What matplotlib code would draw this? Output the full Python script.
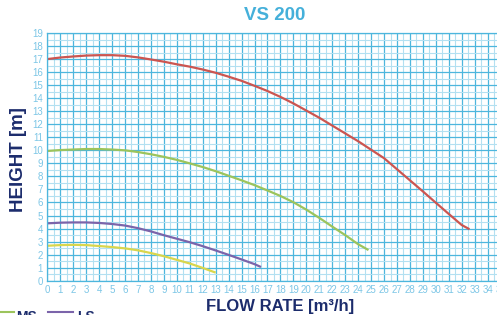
import matplotlib.pyplot as plt
from matplotlib.lines import Line2D
from matplotlib.ticker import MultipleLocator

# Curve data (flow m3/h -> height m)
hs_flow = [0, 1, 2, 3, 4, 5, 6, 7, 8, 9, 10, 11, 12, 13, 14, 15, 16, 17,
           18, 19, 20, 21, 22, 23, 24, 25, 26, 27, 28, 29, 30, 31, 32, 32.6]
hs_head = [17.0, 17.12, 17.2, 17.27, 17.3, 17.3, 17.25, 17.13, 16.97, 16.8,
           16.6, 16.42, 16.2, 15.95, 15.65, 15.33, 14.95, 14.55, 14.1, 13.6,
           13.05, 12.5, 11.9, 11.3, 10.7, 10.05, 9.4, 8.55, 7.7, 6.85, 5.98,
           5.12, 4.27, 3.95]

ms_flow = [0, 1, 2, 3, 4, 5, 6, 7, 8, 9, 10, 11, 12, 13, 14, 15, 16, 17,
           18, 19, 20, 21, 22, 23, 24, 24.8]
ms_head = [9.95, 10.02, 10.06, 10.1, 10.1, 10.06, 10.0, 9.87, 9.7, 9.5,
           9.27, 9.0, 8.72, 8.4, 8.05, 7.7, 7.33, 6.92, 6.5, 6.02, 5.45,
           4.82, 4.15, 3.5, 2.8, 2.35]

ls_flow = [0, 1, 2, 3, 4, 5, 6, 7, 8, 9, 10, 11, 12, 13, 14, 15, 16, 16.5]
ls_head = [4.4, 4.45, 4.47, 4.47, 4.43, 4.35, 4.23, 4.03, 3.78, 3.49, 3.22,
           2.95, 2.65, 2.32, 1.98, 1.63, 1.27, 1.05]

xs_flow = [0, 1, 2, 3, 4, 5, 6, 7, 8, 9, 10, 11, 12, 13]
xs_head = [2.68, 2.73, 2.75, 2.73, 2.66, 2.58, 2.48, 2.33, 2.12, 1.88, 1.6,
           1.32, 0.98, 0.62]

x_ticks = list(range(0, 36))
y_ticks = list(range(0, 20))

# colours
RED = '#cc5550'
GREEN = '#9cc45c'
PURPLE = '#7b64aa'
YELLOW = '#d9d64c'
GRID_MAJ = '#4db6dd'
GRID_MIN = '#b3e0f1'
TICK_COL = '#7cc6e6'
NAVY = '#1c2c6c'

plt.rcParams['font.family'] = ['Liberation Sans', 'DejaVu Sans']

fig = plt.figure(figsize=(4.97, 3.15), dpi=100)
ax = fig.add_axes([0.0952, 0.1089, 0.912, 0.7863])

ax.set_xlim(0, 35)
ax.set_ylim(0, 19)
ax.set_xticks(x_ticks)
ax.set_yticks(y_ticks)
ax.xaxis.set_minor_locator(MultipleLocator(0.5))
ax.yaxis.set_minor_locator(MultipleLocator(0.5))
ax.grid(True, which='minor', color=GRID_MIN, linewidth=0.8)
ax.grid(True, which='major', color=GRID_MAJ, linewidth=0.9)
ax.set_axisbelow(True)
for s in ax.spines.values():
    s.set_color(GRID_MAJ)
    s.set_linewidth(0.9)
ax.spines['right'].set_visible(False)

ax.tick_params(which='both', length=0)
ax.tick_params(axis='both', labelsize=7, labelcolor=TICK_COL)
ax.tick_params(axis='x', pad=3)
ax.tick_params(axis='y', pad=3)

ax.plot(hs_flow, hs_head, color=RED, linewidth=1.6, solid_capstyle='butt')
ax.plot(ms_flow, ms_head, color=GREEN, linewidth=1.6, solid_capstyle='butt')
ax.plot(ls_flow, ls_head, color=PURPLE, linewidth=1.6, solid_capstyle='butt')
ax.plot(xs_flow, xs_head, color=YELLOW, linewidth=1.6, solid_capstyle='butt')

fig.text(0.552, 0.935, 'VS 200', color='#45b0da', fontsize=13.5,
         fontweight='bold', ha='center', va='baseline')
fig.text(0.563, 0.0127, 'FLOW RATE [m³/h]', color=NAVY, fontsize=12,
         fontweight='bold', ha='center', va='baseline')
fig.text(0.038, 0.492, 'HEIGHT [m]', color=NAVY, fontsize=13.5,
         fontweight='bold', rotation=90, ha='center', va='center')

# legend, cut off at the bottom edge like the reference
fig.add_artist(Line2D([0.0, 0.028], [0.008, 0.008], color=GREEN, linewidth=1.5,
                      transform=fig.transFigure))
fig.text(0.032, 0.017, 'MS', color=NAVY, fontsize=10, fontweight='bold',
         va='top', ha='left')
fig.add_artist(Line2D([0.097, 0.146], [0.008, 0.008], color=PURPLE, linewidth=1.5,
                      transform=fig.transFigure))
fig.text(0.156, 0.017, 'LS', color=NAVY, fontsize=10, fontweight='bold',
         va='top', ha='left')

fig.savefig('out.png', dpi=100)
